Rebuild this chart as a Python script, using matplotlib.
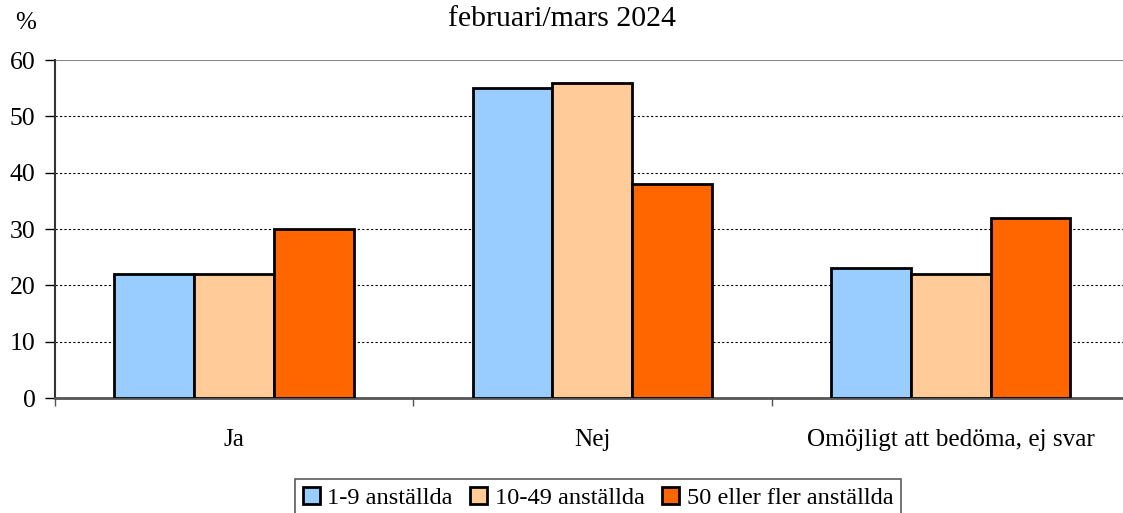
import matplotlib
matplotlib.use("Agg")
import matplotlib.pyplot as plt
import numpy as np

categories = ["Ja", "Nej", "Omöjligt att bedöma, ej svar"]
series_names = ["1-9 anställda", "10-49 anställda", "50 eller fler anställda"]
v_small = [22, 55, 23]
v_medium = [22, 56, 22]
v_large = [30, 38, 32]
colors = ["#99CCFF", "#FFCC99", "#FF6600"]

plt.rcParams['font.family'] = ['Liberation Serif', 'DejaVu Serif']

fig = plt.figure(figsize=(11.23, 5.13), dpi=100)
ax = fig.add_axes([0.049, 0.224, 0.957, 0.659])

x = np.arange(len(categories))
w = 0.223
for i, (vals, name, c) in enumerate(zip([v_small, v_medium, v_large], series_names, colors)):
    ax.bar(x + (i - 1) * w, vals, width=w, color=c, edgecolor="black", linewidth=2, label=name, zorder=3)

ax.set_xlim(-0.5, 2.5)
ax.set_ylim(0, 60)
ax.set_yticks(range(0, 61, 10))
for yv in range(10, 60, 10):
    ax.axhline(yv, color="black", linestyle=(0, (2, 2)), linewidth=0.8, zorder=1)
ax.axhline(60, color="#888888", linewidth=1.5, zorder=1)

ax.set_xticks([-0.5, 0.5, 1.5, 2.5])
ax.set_xticklabels([])
ax.set_xticks(x, minor=True)
ax.set_xticklabels(categories, minor=True)
ax.tick_params(axis="x", which="minor", length=0, pad=22, labelsize=18.2)
ax.tick_params(axis="x", which="major", length=6, width=1, color="#555555")
ax.tick_params(axis="y", length=7, width=1, labelsize=18.5, color="black", pad=7)

for s in ["top", "right"]:
    ax.spines[s].set_visible(False)
ax.spines["left"].set_linewidth(1.5)
ax.spines["left"].set_color("#333333")
ax.spines["bottom"].set_linewidth(2)
ax.spines["bottom"].set_color("#555555")

fig.text(0.5006, 0.963, "februari/mars 2024", ha="center", va="center", fontsize=21.5)
fig.text(0.023, 0.955, "%", ha="center", va="center", fontsize=18)

leg = fig.legend(loc="center", bbox_to_anchor=(0.5325, 0.03), ncol=3, frameon=True, fancybox=False,
                 edgecolor="#333333", fontsize=17.6, handlelength=0.7, handleheight=0.7,
                 handletextpad=0.3, columnspacing=0.72, borderpad=0.3, borderaxespad=0)
leg.get_frame().set_linewidth(1.2)

fig.savefig("out.png", dpi=100)
